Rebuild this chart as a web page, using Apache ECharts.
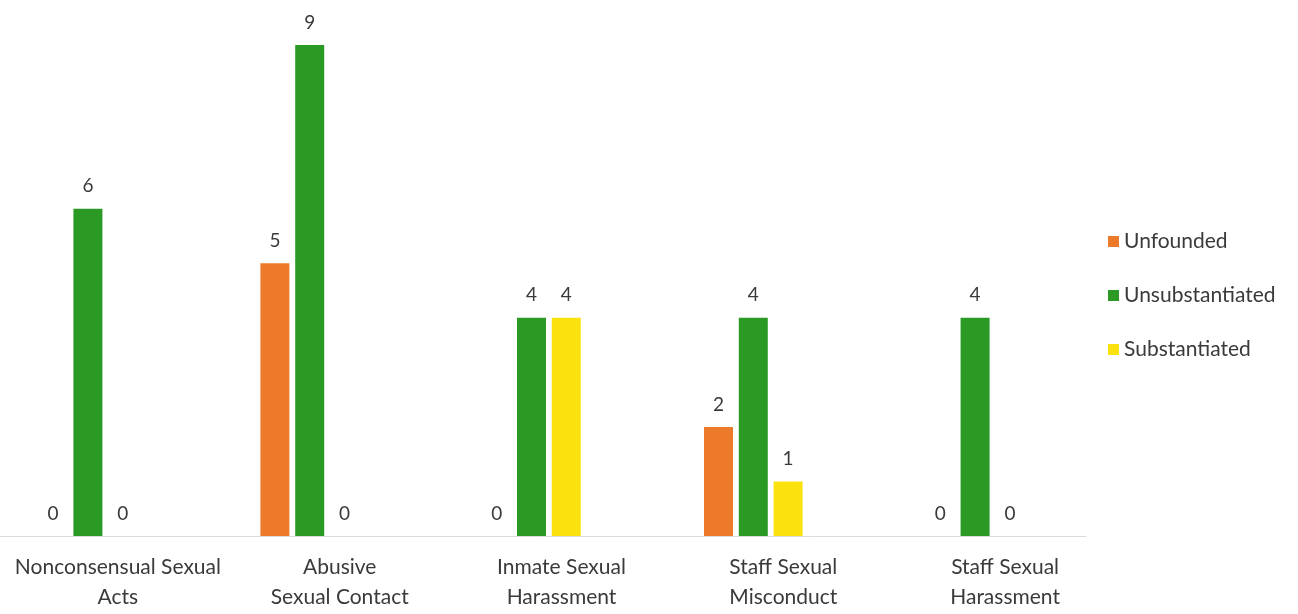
<!DOCTYPE html>
<html><head><meta charset="utf-8">
<script src="https://cdn.jsdelivr.net/npm/echarts@6/dist/echarts.min.js"></script>
<style>html,body{margin:0;padding:0;background:#fff}#c{width:1298px;height:614px}</style>
</head><body><div id="c"></div>
<script>
const categories = ['Nonconsensual Sexual\nActs', 'Abusive\nSexual Contact', 'Inmate Sexual\nHarassment', 'Staff Sexual\nMisconduct', 'Staff Sexual\nHarassment'];
const unfounded = [0, 5, 0, 2, 0];
const unsubstantiated = [6, 9, 4, 4, 4];
const substantiated = [0, 0, 4, 1, 0];
const seriesNames = ['Unfounded', 'Unsubstantiated', 'Substantiated'];
const colors = ['#ec7a2a', '#2b9a24', '#fbe20e'];

const FONT = 'Lato, "Open Sans", sans-serif';
const label = {show: true, position: 'top', distance: 13, fontSize: 19, color: '#3a3a3a', fontFamily: FONT};
const mk = (name, data, color) => ({name, type: 'bar', data, barWidth: 29, barGap: '20%',
  itemStyle: {color}, label});

const chart = echarts.init(document.getElementById('c'));
chart.setOption({
  animation: false,
  backgroundColor: '#fff',
  grid: {left: -23, right: 212, top: 45, bottom: 78, containLabel: false, outerBoundsMode: 'none'},
  legend: {orient: 'vertical', left: 1103, top: 226, itemWidth: 11, itemHeight: 11, itemGap: 33,
    icon: 'rect', data: seriesNames,
    textStyle: {fontSize: 21, color: '#3a3a3a', fontFamily: FONT}},
  xAxis: {type: 'category', data: categories,
    axisLine: {lineStyle: {color: '#dcdcdc', width: 1}},
    axisTick: {show: false},
    axisLabel: {fontSize: 21, lineHeight: 30, color: '#3a3a3a', fontFamily: FONT, margin: 16,
      padding: [0, 0, 0, 60], interval: 0}},
  yAxis: {type: 'value', min: 0, max: 9, show: false, splitLine: {show: false}},
  series: [mk(seriesNames[0], unfounded, colors[0]), mk(seriesNames[1], unsubstantiated, colors[1]), mk(seriesNames[2], substantiated, colors[2])]
});
</script></body></html>
